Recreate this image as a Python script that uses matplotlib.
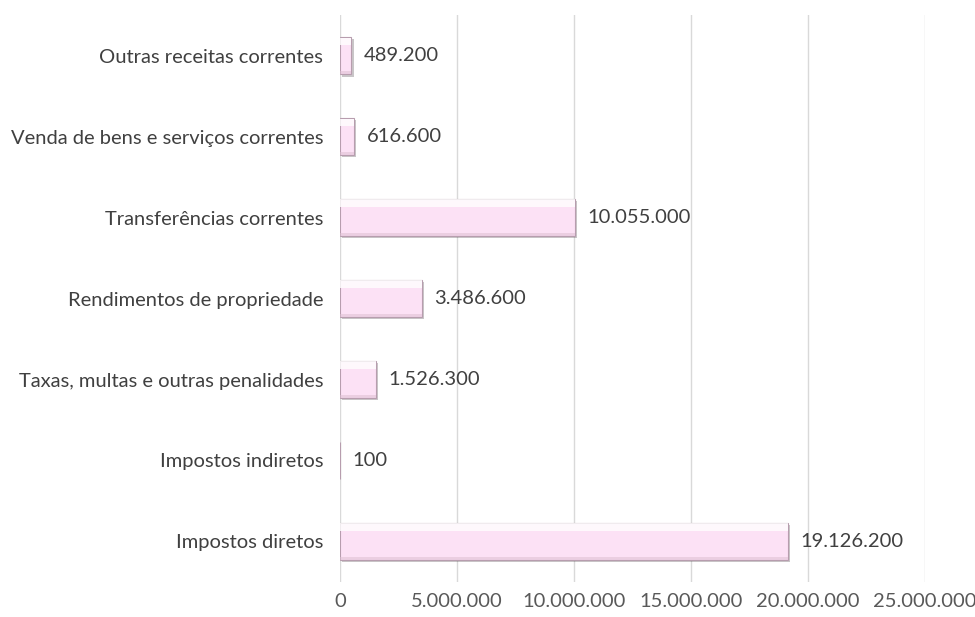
import matplotlib
matplotlib.use("Agg")
import matplotlib.pyplot as plt
import matplotlib.patheffects as pe
from matplotlib.ticker import FuncFormatter

categorias = [
    "Impostos diretos",
    "Impostos indiretos",
    "Taxas, multas e outras penalidades",
    "Rendimentos de propriedade",
    "Transferências correntes",
    "Venda de bens e serviços correntes",
    "Outras receitas correntes",
]
valores = [19126200, 100, 1526300, 3486600, 10055000, 616600, 489200]
xticks = [0, 5000000, 10000000, 15000000, 20000000, 25000000]


def fmt_pt(v, pos=None):
    return f"{int(v):,}".replace(",", ".")


plt.rcParams['font.family'] = ['Lato', 'DejaVu Sans']

fig = plt.figure(figsize=(9.75, 6.17), dpi=100)
ax = fig.add_axes([0.3487, 0.057, 0.6, 0.918])

y = list(range(len(categorias)))
h = 0.46

bars = ax.barh(y, valores, height=h, color="#FCE1F5", edgecolor="#B79DAE",
               linewidth=0.8, zorder=3)
for b in bars:
    b.set_path_effects([pe.SimplePatchShadow(offset=(1.5, -1.5), alpha=0.3),
                        pe.Normal()])

# bevel highlight (top) and shade (bottom)
ax.barh([v + h / 2 - h * 0.11 for v in y], valores, height=h * 0.2,
        color="white", alpha=0.8, linewidth=0, zorder=4)
ax.barh([v - h / 2 + h * 0.05 for v in y], valores, height=h * 0.08,
        color="#DDBFD2", alpha=0.55, linewidth=0, zorder=4)

for yi, v in zip(y, valores):
    ax.annotate(fmt_pt(v), (v, yi), xytext=(9, 0), textcoords="offset points",
                va="center", ha="left", fontsize=14.5, color="#404040")

ax.set_xlim(0, 25000000)
ax.set_ylim(-0.5, len(categorias) - 0.5)
ax.set_xticks(xticks)
ax.xaxis.set_major_formatter(FuncFormatter(fmt_pt))
ax.set_yticks(y)
ax.set_yticklabels(categorias)
ax.tick_params(axis="y", length=0, pad=12, labelsize=14.5, labelcolor="#404040")
ax.tick_params(axis="x", length=0, pad=8, labelsize=14.5, labelcolor="#595959")
ax.grid(axis="x", color="#D9D9D9", linewidth=1, zorder=0)
for s in ax.spines.values():
    s.set_visible(False)

fig.savefig("out.png", dpi=100)
